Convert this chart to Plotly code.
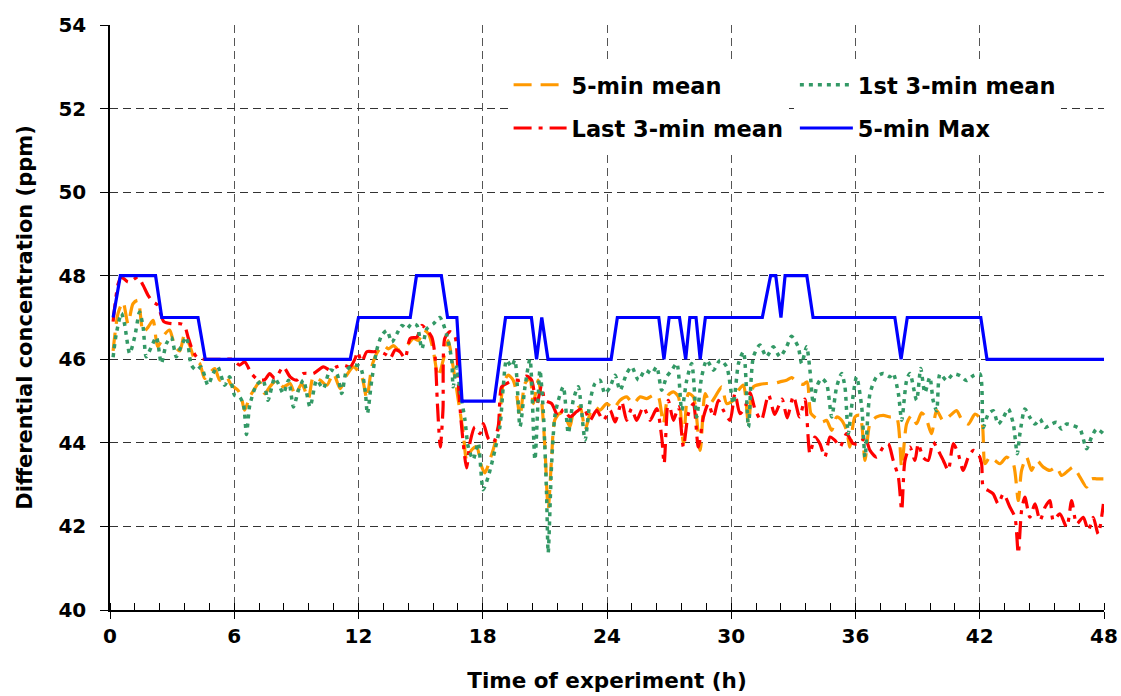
import plotly.graph_objects as go

# Time axis (h) and concentrations (ppm) for each averaging method
t_mean5 = [0.15, 0.39, 0.63, 0.87, 1.11, 1.35, 1.6, 1.84, 2.08, 2.3, 2.64, 2.88, 3.12, 3.37, 3.6, 3.85,
           4.1, 4.33, 4.57, 4.8, 5.06, 5.3, 5.62, 5.86, 6.18, 6.34, 6.5, 6.75, 6.99, 7.23, 7.47, 7.73,
           8.05, 8.37, 8.7, 8.94, 9.26, 9.58, 9.82, 10.15, 10.47, 10.79, 11.11, 11.43, 11.76, 12.16,
           12.4, 12.64, 12.88, 13.2, 13.45, 13.69, 13.93, 14.17, 14.41, 14.65, 14.9, 15.14, 15.38,
           15.61, 15.85, 16.09, 16.33, 16.57, 16.82, 17.06, 17.22, 17.46, 17.7, 17.94, 18.1, 18.35,
           18.59, 18.8, 18.99, 19.23, 19.47, 19.63, 19.8, 20.04, 20.28, 20.44, 20.68, 20.84, 21.0,
           21.16, 21.32, 21.48, 21.73, 21.97, 22.21, 22.37, 22.7, 22.94, 23.18, 23.42, 23.66, 23.99,
           24.31, 24.63, 24.95, 25.27, 25.6, 25.92, 26.24, 26.48, 26.72, 26.96, 27.21, 27.45, 27.69,
           27.93, 28.17, 28.5, 28.74, 28.98, 29.22, 29.54, 29.78, 30.1, 30.35, 30.59, 30.83, 31.07,
           31.39, 31.71, 32.03, 32.35, 32.67, 32.92, 33.16, 33.48, 33.66, 33.85, 34.12, 34.4, 34.6,
           34.85, 35.09, 35.33, 35.57, 35.73, 35.97, 36.21, 36.46, 36.7, 37.02, 37.34, 37.66, 37.98,
           38.23, 38.47, 38.71, 38.95, 39.19, 39.4, 39.67, 39.92, 40.24, 40.56, 40.88, 41.12, 41.45,
           41.77, 42.09, 42.25, 42.49, 42.73, 42.98, 43.3, 43.62, 43.86, 44.02, 44.26, 44.5, 44.75,
           45.07, 45.39, 45.71, 45.95, 46.28, 46.52, 46.84, 47.16, 47.4, 47.64, 47.97]
v_mean5 = [46.2, 47.1, 47.37, 46.85, 47.33, 47.41, 46.65, 46.77, 46.93, 46.3, 46.6, 46.7, 46.33, 46.2,
           46.6, 46.33, 45.98, 45.9, 45.54, 45.66, 45.78, 45.5, 45.58, 45.38, 45.26, 45.1, 44.78, 45.1,
           45.3, 45.46, 45.18, 45.35, 45.5, 45.34, 45.42, 45.14, 45.42, 45.06, 45.58, 45.5, 45.38,
           45.66, 45.3, 45.62, 45.82, 45.58, 45.06, 45.82, 46.14, 46.33, 46.25, 46.33, 46.22, 46.25,
           46.37, 46.5, 46.45, 46.7, 46.61, 46.21, 45.58, 45.98, 46.45, 45.82, 45.02, 44.23, 43.6,
           43.83, 43.91, 43.44, 43.28, 43.6, 43.99, 44.47, 45.42, 45.62, 45.5, 45.18, 44.63, 45.42,
           45.54, 44.94, 45.5, 45.02, 43.91, 42.4, 43.6, 44.55, 44.71, 44.63, 44.39, 44.71, 44.87,
           44.31, 44.7, 44.86, 44.78, 44.94, 44.82, 45.02, 45.1, 44.94, 45.1, 45.06, 45.14, 45.1,
           44.46, 45.14, 45.22, 45.1, 43.98, 45.18, 45.1, 43.82, 45.18, 44.94, 45.1, 45.34, 44.94,
           45.02, 45.26, 45.38, 44.46, 45.34, 45.4, 45.42, 45.42, 45.46, 45.5, 45.56, 45.46, 45.4,
           45.46, 44.7, 44.58, 44.5, 44.54, 44.3, 44.62, 44.54, 44.3, 43.9, 44.62, 44.66, 43.58, 44.46,
           44.62, 44.66, 44.62, 44.62, 43.42, 44.46, 44.66, 44.46, 44.72, 44.6, 44.22, 44.77, 44.53,
           44.65, 44.77, 44.57, 44.45, 44.69, 44.53, 43.5, 43.66, 43.58, 43.5, 43.66, 43.5, 42.62,
           43.34, 43.66, 43.34, 43.58, 43.42, 43.34, 43.42, 43.22, 43.34, 43.42, 43.18, 42.94, 43.14,
           43.14, 43.14]

t_first3 = [0.15, 0.3, 0.55, 0.7, 0.95, 1.19, 1.43, 1.6, 1.75, 2.0, 2.24, 2.48, 2.72, 2.96, 3.2, 3.45,
            3.69, 3.93, 4.17, 4.4, 4.73, 4.98, 5.2, 5.54, 5.78, 6.02, 6.26, 6.45, 6.59, 6.75, 7.07, 7.39,
            7.63, 7.95, 8.15, 8.37, 8.62, 8.86, 9.1, 9.34, 9.66, 9.98, 10.3, 10.63, 10.95, 11.19, 11.43,
            11.76, 12.08, 12.32, 12.43, 12.64, 12.88, 13.12, 13.37, 13.61, 13.85, 14.1, 14.33, 14.57,
            14.82, 15.06, 15.3, 15.62, 15.93, 16.25, 16.5, 16.57, 16.74, 16.9, 17.14, 17.3, 17.54,
            17.78, 18.02, 18.27, 18.59, 18.83, 18.99, 19.15, 19.39, 19.55, 19.8, 20.04, 20.28, 20.52,
            20.76, 20.92, 21.08, 21.16, 21.32, 21.48, 21.65, 21.89, 22.13, 22.37, 22.61, 22.94, 23.18,
            23.42, 23.66, 23.9, 24.15, 24.39, 24.63, 24.95, 25.19, 25.52, 25.84, 26.16, 26.4, 26.64,
            26.88, 27.13, 27.37, 27.61, 27.85, 28.09, 28.33, 28.57, 28.82, 29.14, 29.46, 29.78, 30.1,
            30.35, 30.59, 30.83, 31.07, 31.38, 31.7, 32.03, 32.35, 32.67, 32.91, 33.23, 33.4, 33.64,
            33.8, 33.96, 34.12, 34.36, 34.6, 34.85, 35.09, 35.33, 35.49, 35.65, 35.81, 36.05, 36.3,
            36.46, 36.7, 37.02, 37.34, 37.66, 37.82, 38.07, 38.23, 38.47, 38.63, 38.95, 39.15, 39.35,
            39.59, 39.75, 39.92, 40.08, 40.4, 40.72, 41.04, 41.36, 41.69, 42.01, 42.17, 42.41, 42.65,
            42.89, 43.14, 43.38, 43.62, 43.81, 43.94, 44.18, 44.42, 44.67, 44.91, 45.15, 45.47, 45.71,
            45.95, 46.2, 46.52, 46.84, 47.16, 47.4, 47.64, 47.97]
v_first3 = [46.05, 46.6, 47.1, 46.85, 46.14, 46.53, 47.13, 46.77, 46.06, 46.3, 46.53, 45.9, 46.37, 46.53,
            46.06, 46.33, 46.53, 45.86, 45.74, 45.82, 45.38, 45.66, 45.82, 45.38, 45.58, 45.14, 45.1,
            44.9, 44.2, 44.9, 45.38, 45.5, 45.02, 45.55, 45.4, 45.18, 45.5, 44.86, 45.26, 45.5, 44.86,
            45.5, 45.3, 45.74, 45.66, 45.18, 45.74, 45.86, 45.82, 45.26, 44.7, 45.5, 46.22, 46.57,
            46.69, 46.41, 46.61, 46.81, 46.73, 46.85, 46.81, 46.25, 46.73, 46.85, 47.0, 46.6, 45.98,
            45.34, 45.82, 45.26, 44.55, 43.9, 43.6, 44.0, 42.88, 43.2, 43.83, 44.39, 45.34, 45.98,
            45.82, 45.98, 44.39, 45.34, 46.0, 43.6, 45.74, 44.79, 42.8, 41.37, 43.44, 44.63, 45.02,
            45.34, 44.23, 45.02, 45.34, 44.07, 45.0, 45.42, 45.5, 45.18, 45.34, 45.62, 45.26, 45.66,
            45.82, 45.5, 45.74, 45.66, 45.82, 45.26, 45.58, 45.74, 45.9, 44.78, 45.5, 45.9, 44.62,
            45.58, 45.98, 45.74, 45.98, 45.82, 44.94, 45.9, 46.18, 44.38, 46.06, 46.34, 46.06, 46.3,
            46.06, 46.3, 46.55, 46.3, 45.9, 46.3, 45.74, 44.94, 45.34, 45.54, 45.42, 44.62, 45.34,
            45.66, 45.34, 44.22, 44.86, 45.58, 44.86, 43.66, 45.18, 45.58, 45.66, 45.58, 45.66, 45.18,
            44.54, 45.5, 45.66, 45.02, 45.78, 45.2, 45.57, 45.01, 44.77, 45.65, 45.49, 45.65, 45.61,
            45.49, 45.61, 45.65, 44.37, 44.69, 44.77, 44.45, 44.61, 44.81, 44.45, 43.74, 44.22, 44.81,
            44.61, 44.45, 44.57, 44.37, 44.45, 44.49, 44.33, 44.45, 44.41, 44.33, 43.86, 44.14, 44.33,
            44.22]

t_last3 = [0.15, 0.39, 0.55, 0.87, 1.11, 1.35, 1.6, 1.84, 2.08, 2.3, 2.6, 3.0, 3.4, 3.6, 3.77, 4.0,
           4.25, 4.57, 5.0, 5.5, 5.9, 6.26, 6.5, 6.83, 7.15, 7.47, 7.71, 7.95, 8.05, 8.37, 8.7, 9.02,
           9.34, 9.82, 10.3, 10.63, 10.95, 11.27, 11.6, 11.84, 11.95, 12.16, 12.4, 12.72, 13.04, 13.37,
           13.53, 13.77, 14.0, 14.25, 14.5, 14.82, 15.06, 15.3, 15.54, 15.7, 15.81, 15.95, 16.08,
           16.17, 16.42, 16.66, 16.82, 16.98, 17.22, 17.38, 17.62, 17.87, 18.03, 18.27, 18.51, 18.75,
           18.91, 19.15, 19.48, 19.8, 20.12, 20.36, 20.6, 20.84, 21.0, 21.33, 21.65, 21.89, 22.21,
           22.54, 22.86, 23.18, 23.5, 23.82, 24.15, 24.39, 24.71, 24.95, 25.19, 25.43, 25.76, 26.08,
           26.4, 26.64, 26.76, 26.96, 27.21, 27.45, 27.69, 27.93, 28.17, 28.41, 28.66, 28.9, 29.14,
           29.38, 29.62, 29.94, 30.18, 30.42, 30.67, 30.91, 31.15, 31.45, 31.8, 32.1, 32.45, 32.7,
           33.0, 33.3, 33.56, 33.8, 34.04, 34.28, 34.52, 34.77, 35.01, 35.25, 35.57, 35.89, 36.21,
           36.46, 36.7, 37.02, 37.34, 37.58, 37.82, 38.07, 38.23, 38.39, 38.63, 38.87, 39.03, 39.27,
           39.51, 39.75, 39.99, 40.24, 40.48, 40.72, 40.96, 41.2, 41.45, 41.69, 41.93, 42.09, 42.17,
           42.41, 42.65, 42.89, 43.14, 43.46, 43.7, 43.86, 44.02, 44.18, 44.42, 44.67, 44.91, 45.15,
           45.39, 45.55, 45.87, 46.2, 46.44, 46.68, 47.0, 47.24, 47.48, 47.72, 47.97]
v_last3 = [46.9, 47.8, 47.97, 47.85, 47.9, 47.97, 47.77, 47.53, 47.37, 47.3, 46.9, 46.85, 46.85, 46.8,
           46.53, 46.2, 46.02, 46.0, 46.0, 46.0, 46.0, 45.86, 45.94, 45.66, 45.51, 45.51, 45.66, 45.54,
           45.58, 45.82, 45.58, 45.5, 45.66, 45.66, 45.82, 45.74, 45.82, 45.86, 45.82, 46.02, 46.18,
           45.94, 46.18, 46.18, 46.18, 46.1, 46.02, 46.22, 46.18, 46.02, 46.5, 46.53, 46.81, 46.7,
           46.53, 46.06, 44.94, 43.9, 44.8, 46.5, 46.66, 46.54, 45.42, 44.38, 43.4, 44.0, 44.38, 44.22,
           44.46, 44.1, 44.0, 44.4, 45.34, 45.42, 45.5, 45.5, 45.6, 45.5, 44.9, 45.38, 45.02, 44.94,
           44.62, 44.8, 44.62, 44.75, 44.85, 44.54, 44.78, 44.54, 44.78, 44.5, 44.98, 44.54, 44.82,
           44.54, 44.86, 44.54, 44.82, 44.14, 43.5, 45.02, 44.54, 44.86, 43.9, 44.7, 44.94, 43.9, 44.62,
           44.94, 44.62, 45.02, 44.78, 44.54, 45.18, 44.7, 44.86, 45.2, 44.8, 44.54, 45.15, 44.68,
           45.05, 44.6, 45.12, 44.62, 45.05, 43.74, 44.14, 43.98, 43.66, 44.14, 44.06, 43.9, 44.22,
           43.98, 43.98, 44.14, 43.82, 43.66, 43.9, 43.98, 43.58, 43.18, 42.38, 43.58, 43.9, 43.58,
           43.98, 43.65, 43.58, 44.02, 43.82, 43.58, 43.34, 43.98, 43.74, 43.34, 43.66, 43.82, 43.74,
           43.5, 42.94, 42.86, 42.78, 42.54, 42.78, 42.46, 42.22, 41.35, 42.38, 42.7, 42.22, 42.54,
           42.14, 42.46, 42.62, 42.14, 42.3, 41.98, 42.62, 42.06, 42.22, 41.9, 42.22, 41.82, 42.54]

t_max5 = [0.15, 0.5, 2.2, 2.5, 4.25, 4.6, 11.6, 12.0, 14.5, 14.8, 16.0, 16.3, 16.75, 17.0, 18.55, 19.1,
          20.35, 20.6, 20.85, 21.15, 24.2, 24.5, 26.5, 26.75, 27.0, 27.5, 27.8, 28.0, 28.3, 28.5, 28.75,
          31.5, 31.9, 32.15, 32.4, 32.6, 33.65, 33.95, 37.9, 38.2, 38.5, 42.05, 42.35, 48.0]
v_max5 = [47, 48, 48, 47, 47, 46, 46, 47, 47, 48, 48, 47, 47, 45, 45, 47,
          47, 46, 47, 46, 46, 47, 47, 46, 47, 47, 46, 47, 47, 46, 47,
          47, 48, 48, 47, 48, 48, 47, 47, 46, 47, 47, 46, 46]

x_ticks = [0, 6, 12, 18, 24, 30, 36, 42, 48]
y_ticks = [40, 42, 44, 46, 48, 50, 52, 54]

FONT = "DejaVu Sans, Verdana, sans-serif"

fig = go.Figure()

fig.add_trace(go.Scatter(
    x=t_mean5, y=v_mean5, name="5-min mean", mode="lines", legend="legend",
    legendgroup="a", line=dict(color="#FF9900", width=3.2, dash="18px,9px", shape="spline", smoothing=0.7)))
fig.add_trace(go.Scatter(
    x=t_last3, y=v_last3, name="Last 3-min mean", mode="lines", legend="legend",
    legendgroup="b", line=dict(color="#FF0000", width=3.2, dash="18px,7px,4px,7px", shape="spline", smoothing=0.7)))
fig.add_trace(go.Scatter(
    x=t_first3, y=v_first3, name="1st 3-min mean", mode="lines", legend="legend2",
    legendgroup="c", line=dict(color="#339966", width=3.5, dash="4px,5px", shape="spline", smoothing=0.7)))
fig.add_trace(go.Scatter(
    x=t_max5, y=v_max5, name="5-min Max", mode="lines", legend="legend2",
    legendgroup="d", line=dict(color="#0000FF", width=3.2, shape="linear")))

legend_common = dict(
    orientation="v", xanchor="left", yanchor="top", y=0.934,
    bgcolor="white", borderwidth=0, itemwidth=53, tracegroupgap=11,
    font=dict(family=FONT, size=22.5, color="black", weight="bold"),
)

fig.update_layout(
    width=1121, height=696,
    margin=dict(l=110, r=17, t=25, b=86, autoexpand=False),
    paper_bgcolor="white", plot_bgcolor="white",
    showlegend=True,
    legend=dict(x=0.401, **legend_common),
    legend2=dict(x=0.689, **legend_common),
    font=dict(family=FONT, color="black"),
    xaxis=dict(
        range=[0, 48], tickvals=x_ticks, ticktext=[str(v) for v in x_ticks],
        automargin=False,
        showgrid=True, gridcolor="#555555", griddash="8px,5px", gridwidth=1,
        showline=True, linecolor="black", linewidth=1.5,
        ticks="outside", ticklen=7, tickcolor="black",
        minor=dict(dtick=1.2, ticks="inside", ticklen=7, tickcolor="black", showgrid=False),
        tickfont=dict(family=FONT, size=20, weight="bold"),
        title=dict(text="Time of experiment (h)", font=dict(family=FONT, size=21.5, weight="bold"), standoff=26),
        zeroline=False,
    ),
    yaxis=dict(
        range=[40, 54], tickvals=y_ticks,
        automargin=False,
        showgrid=True, gridcolor="#333333", griddash="8px,5px", gridwidth=1,
        showline=True, linecolor="black", linewidth=1.5,
        ticks="outside", ticklen=8, tickcolor="black", ticklabelstandoff=10,
        tickfont=dict(family=FONT, size=20, weight="bold"),
        title=dict(text="Differential concentration (ppm)", font=dict(family=FONT, size=21, weight="bold"), standoff=20),
        zeroline=False,
    ),
)

fig.write_html("out.html")
